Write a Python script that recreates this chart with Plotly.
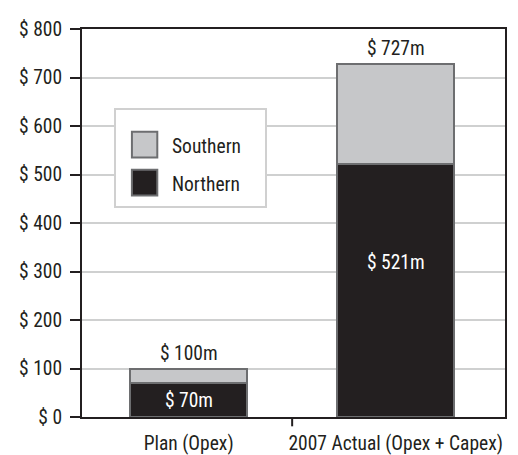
import plotly.graph_objects as go

categories = ["Plan (Opex)", "2007 Actual (Opex + Capex)"]
northern = [70, 521]
southern = [30, 206]
totals = [100, 727]
inner_labels = ["$ 70m", "$ 521m"]
total_labels = ["$ 100m", "$ 727m"]
y_ticks = [0, 100, 200, 300, 400, 500, 600, 700, 800]
y_tick_labels = ["$ 0", "$ 100", "$ 200", "$ 300", "$ 400", "$ 500", "$ 600", "$ 700", "$ 800"]

FONT = "Liberation Sans Narrow, Roboto Condensed, Roboto, Arial, sans-serif"
DARK = "#231f20"
LIGHT = "#c6c7c9"
EDGE = "#6d6e70"
FS = 19.5
BAR_W = 0.565

fig = go.Figure()
fig.add_trace(go.Bar(x=categories, y=northern, name="Northern", width=BAR_W,
                     marker=dict(color=DARK, line=dict(color=EDGE, width=2))))
fig.add_trace(go.Bar(x=categories, y=southern, name="Southern", width=BAR_W,
                     marker=dict(color=LIGHT, line=dict(color=EDGE, width=2))))

annotations = []
shifts = [0, 28]
for c, n, lab, s in zip(categories, northern, inner_labels, shifts):
    annotations.append(dict(x=c, y=n / 2, text=lab, showarrow=False, yshift=s,
                            font=dict(family=FONT, size=FS, color="white")))
for c, t, lab in zip(categories, totals, total_labels):
    annotations.append(dict(x=c, y=t, text=lab, showarrow=False, yanchor="bottom", yshift=2,
                            font=dict(family=FONT, size=FS, color=DARK)))

# manual legend (Southern on top, Northern below)
legend_items = [("Southern", LIGHT, 0.702), ("Northern", DARK, 0.604)]
shapes = [dict(type="rect", xref="paper", yref="paper", x0=0.078, x1=0.435, y0=0.541, y1=0.794,
               line=dict(color="#d0d0d0", width=2), fillcolor="white", layer="above")]
for name, col, yc in legend_items:
    shapes.append(dict(type="rect", xref="paper", yref="paper", x0=0.118, x1=0.178,
                       y0=yc - 0.033, y1=yc + 0.033, line=dict(color=EDGE, width=2),
                       fillcolor=col, layer="above"))
    annotations.append(dict(xref="paper", yref="paper", x=0.207, y=yc - 0.005, text=name,
                            showarrow=False, xanchor="left", yanchor="middle",
                            font=dict(family=FONT, size=FS, color=DARK)))

# single category-separator tick between the two bars
shapes.append(dict(type="line", xref="x", yref="paper", x0=0.5, x1=0.5, y0=0, y1=-0.024,
                   line=dict(color=DARK, width=2)))

fig.update_layout(
    barmode="stack",
    width=510, height=447,
    margin=dict(l=74, r=13, t=21, b=38),
    paper_bgcolor="white", plot_bgcolor="white",
    showlegend=False,
    font=dict(family=FONT, size=FS, color=DARK),
    annotations=annotations,
    shapes=shapes,
    xaxis=dict(type="category", range=[-0.515, 1.528], ticks="outside",
               ticklen=8, tickwidth=1, tickcolor="rgba(0,0,0,0)", showline=True, linecolor=DARK,
               linewidth=2, mirror=True, showgrid=False, tickangle=0, automargin=False,
               tickfont=dict(family=FONT, size=FS, color=DARK)),
    yaxis=dict(range=[0, 800], tickvals=y_ticks, ticktext=y_tick_labels, ticks="outside",
               ticklen=10, tickwidth=2, tickcolor=DARK, showline=True, linecolor=DARK,
               linewidth=2, mirror=True, showgrid=True, gridcolor="#cfd0d0", gridwidth=2,
               zeroline=False, automargin=False, ticklabelstandoff=4,
               tickfont=dict(family=FONT, size=FS, color=DARK)),
)

fig.write_html("out.html")
